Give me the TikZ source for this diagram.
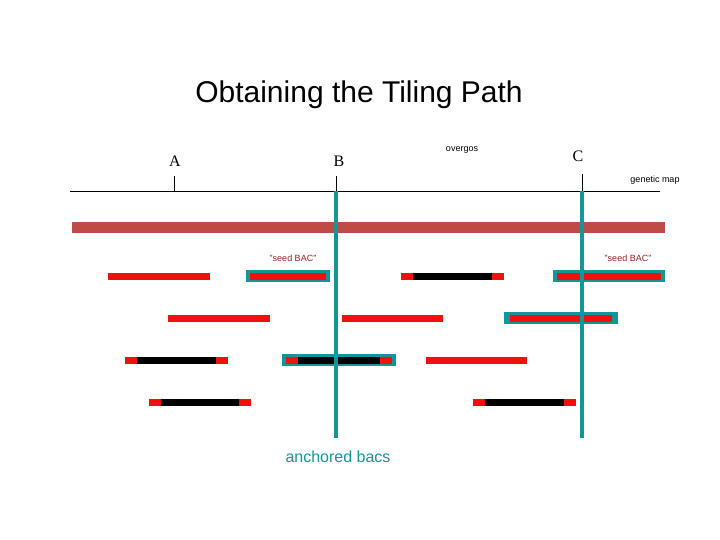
\documentclass[tikz,border=0pt]{standalone}
\usepackage{fontspec}
\setmainfont{Liberation Serif}
\setsansfont{Liberation Sans}
\definecolor{tl}{RGB}{20,150,150}
\definecolor{rd}{RGB}{240,16,16}
\definecolor{br}{RGB}{190,75,70}
\definecolor{sd}{RGB}{160,30,30}
\newcommand\myRbar[3]{\fill[rd] (#1,#3-3.5) rectangle (#2,#3+3.5);}
\newcommand\myHbar[3]{\fill[rd] (#1,#3-3.5) rectangle (#2,#3+3.5);\fill[black] (#1+12,#3-3.5) rectangle (#2-12,#3+3.5);}
\begin{document}
\begin{tikzpicture}[x=1pt,y=-1pt,
  lbl/.style={font=\sffamily\fontsize{9}{10}\selectfont,inner sep=0},
  seedl/.style={lbl,text=sd}]
\useasboundingbox (0,0) rectangle (720,540);
\node[font=\sffamily\fontsize{30}{34}\selectfont] (title) at (359,95) {Obtaining the Tiling Path};
\node[font=\fontsize{16}{18}\selectfont] (A) at (175,161) {A};
\node[font=\fontsize{16}{18}\selectfont] (B) at (339,161) {B};
\node[font=\fontsize{16}{18}\selectfont] (C) at (578,156) {C};
\node[lbl] (ov) at (462,150) {overgos};
\node[lbl] (gm) at (655,180) {genetic map};
\coordinate (m0) at (70,191); \coordinate (m1) at (660,191);
\draw[line width=0.8pt] (m0) -- (m1);
\draw[line width=0.8pt] (174,176) -- (174,191) (336,176) -- (336,191) (582,174) -- (582,191);
\fill[br] (72,222) rectangle (665,233);
\fill[tl] (246,270) rectangle (330,282);
\fill[tl] (553,270) rectangle (665,282);
\fill[tl] (504,312) rectangle (618,324);
\fill[tl] (282,354) rectangle (396,366);
\draw[tl,line width=3.5pt] (336,191) -- (336,438) (582,191) -- (582,438);
\myRbar{108}{210}{276}
\myRbar{250}{326}{276}
\myHbar{401}{504}{276}
\myRbar{557}{661}{276}
\myRbar{168}{270}{318}
\myRbar{342}{443}{318}
\myRbar{510}{612}{318}
\myHbar{125}{228}{360}
\myHbar{286}{392}{360}
\myRbar{426}{527}{360}
\myHbar{149}{251}{402}
\myHbar{473}{576}{402}
\fill[tl] (334.25,356.5) rectangle (337.75,363.5);
\fill[tl] (580.25,314.5) rectangle (583.75,321.5);
\fill[tl] (580.25,272.5) rectangle (583.75,279.5);
\node[seedl] (s1) at (293,258) {"seed BAC"};
\node[seedl] (s2) at (628,258) {"seed BAC"};
\node[font=\sffamily\fontsize{16}{18}\selectfont,text=tl] (ab) at (338,457) {anchored bacs};
\end{tikzpicture}
\end{document}
